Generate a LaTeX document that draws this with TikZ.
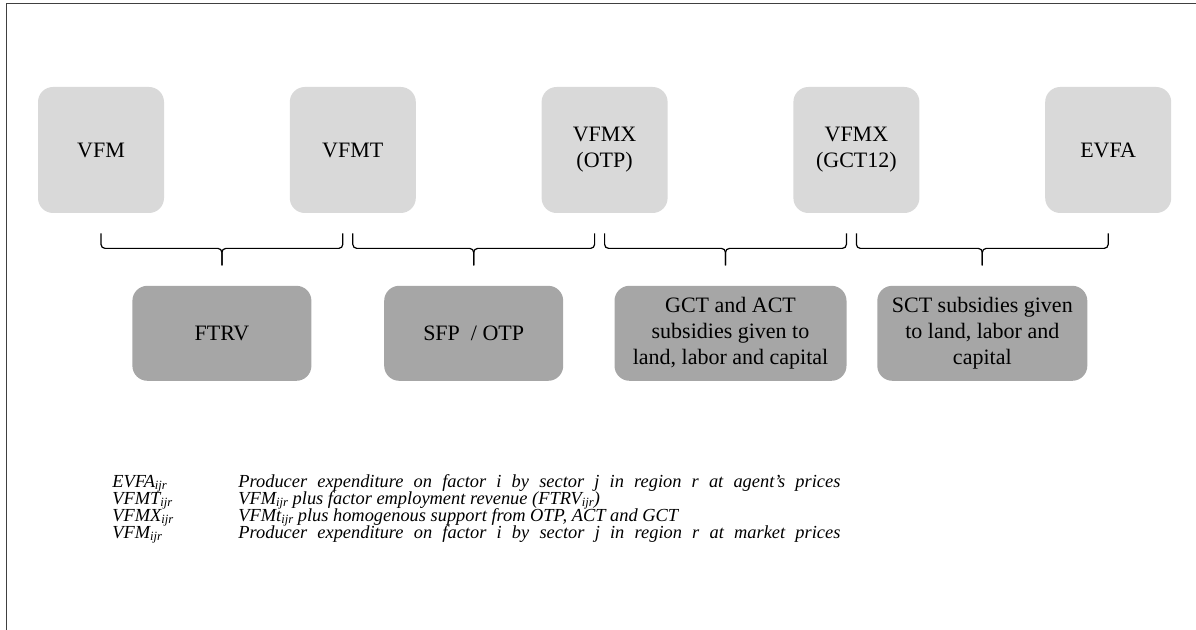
\documentclass[tikz,border=0pt]{standalone}
\usepackage{fontspec}
\setmainfont{Liberation Serif}
\usetikzlibrary{positioning,calc}

\definecolor{topgray}{HTML}{D9D9D9}
\definecolor{subgray}{HTML}{A6A6A6}
\definecolor{framegray}{HTML}{404040}

% justified legend line
\newcommand{\fullline}[1]{\makebox[301pt][s]{#1}}
% subscript ijr
\newcommand{\ijr}{\raisebox{-1.1pt}{\fontsize{6.3}{7}\selectfont ijr}}

\begin{document}
\begin{tikzpicture}[x=0.5pt, y=-0.5pt, node distance=62.5pt,
            topbox/.style={fill=topgray, rounded corners=7.5pt, minimum width=63pt,
                minimum height=63pt, inner sep=0pt, align=center,
                font=\fontsize{11}{13}\selectfont},
            subbox/.style={fill=subgray, rounded corners=7.5pt, minimum height=47.5pt,
                inner sep=0pt, align=center, font=\fontsize{11}{13}\selectfont},
            brace/.style={rounded corners=2pt, line width=0.6pt},
            legend/.style={inner sep=0pt, anchor=base west,
                font=\fontsize{9.2}{11}\selectfont\itshape}]
        \useasboundingbox (0,0) rectangle (1196,630);
        \draw[framegray, line width=0.8pt] (6.5,630) -- (6.5,3.5) -- (1196,3.5);

        % top row
        \node[topbox] (vfm) at (101,150) {VFM};
        \node[topbox, right=of vfm] (vfmt) {VFMT};
        \node[topbox, right=of vfmt] (vfmxotp) {VFMX\\(OTP)};
        \node[topbox, right=of vfmxotp] (vfmxgct) {VFMX\\(GCT12)};
        \node[topbox, right=of vfmxgct] (evfa) {EVFA};

        % braces
        \foreach \a/\b/\s/\n in {vfm/vfmt/-5pt/1, vfmt/vfmxotp/-5pt/2,
                                 vfmxotp/vfmxgct/-5pt/3, vfmxgct/evfa/0pt/4} {
            \coordinate (l\n) at ([yshift=-10pt]\a.south);
            \coordinate (r\n) at ([xshift=\s,yshift=-10pt]\b.south);
            \coordinate (m\n) at ($(l\n)!0.5!(r\n)+(0,-7.5pt)$);
            \coordinate (b\n) at ($(m\n)+(0,-8.5pt)$);
            \draw[brace] (l\n) |- (m\n) -- (b\n);
            \draw[brace] (r\n) |- (m\n) -- (b\n);
        }

        % bottom row
        \node[subbox, minimum width=89.5pt, below=10pt of b1] (ftrv) {FTRV};
        \node[subbox, minimum width=89.5pt, below=10pt of b2] (sfp) {SFP~ / OTP};
        \node[subbox, minimum width=116pt, below=10pt of b3, xshift=2.5pt] (gct)
            {GCT and ACT\\subsidies given to\\land, labor and capital};
        \node[subbox, minimum width=105pt, below=10pt of b4] (sct)
            {SCT subsidies given\\to land, labor and\\capital};

        % legend
        \foreach \k/\d [count=\i] in {
            {EVFA\ijr}/{\fullline{Producer expenditure on factor i by sector j in region r at agent's prices}},
            {VFMT\ijr}/{VFM\ijr\ plus factor employment revenue (FTRV\ijr)},
            {VFMX\ijr}/{VFMt\ijr\ plus homogenous support from OTP, ACT and GCT},
            {VFM\ijr}/{\fullline{Producer expenditure on factor i by sector j in region r at market prices}}} {
            \node[legend] (key\i) at (112, 470.5+17*\i) {\k};
            \node[legend] (desc\i) at (238, 470.5+17*\i) {\d};
        }
\end{tikzpicture}
\end{document}
